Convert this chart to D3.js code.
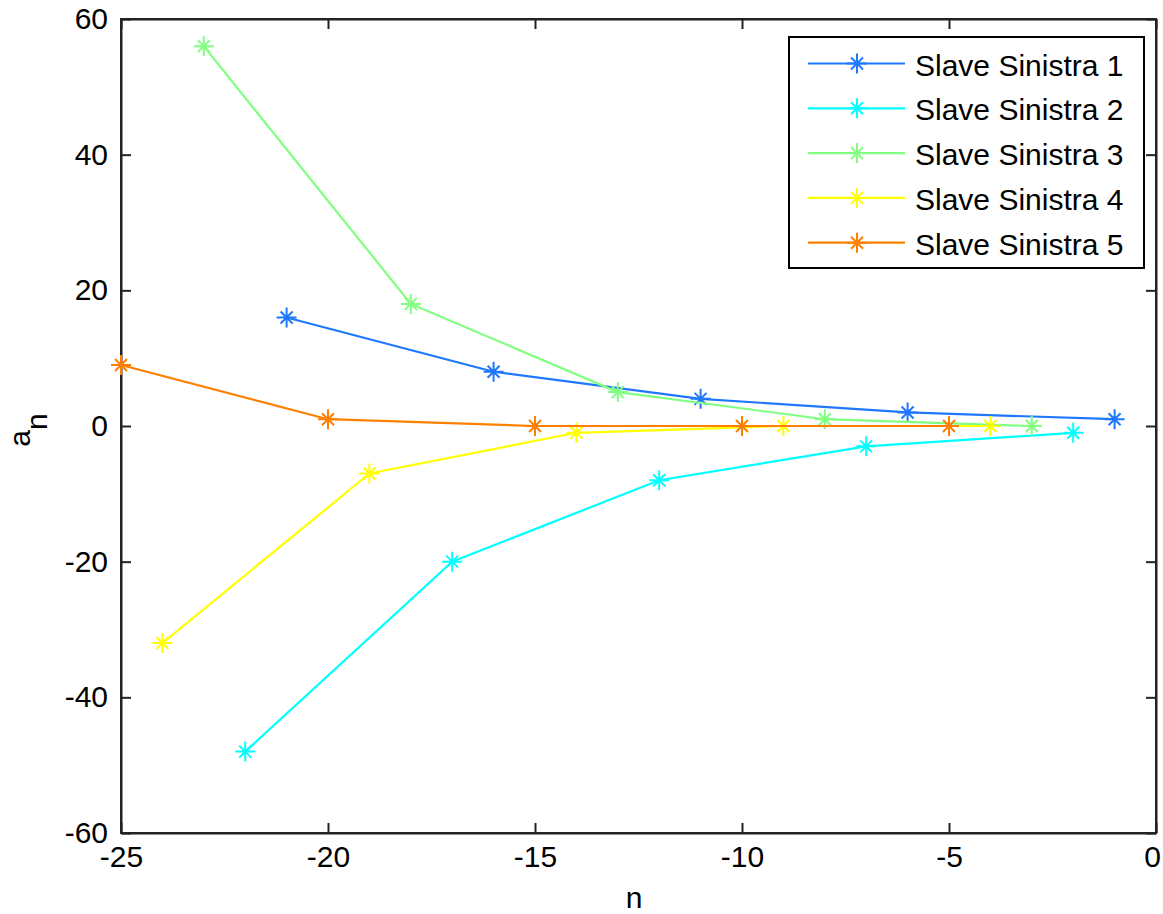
<!DOCTYPE html>
<html><head><meta charset="utf-8">
<script src="https://cdn.jsdelivr.net/npm/d3@7"></script>
<style>body{margin:0;background:#fff;} svg{display:block;font-family:"Liberation Sans",Arial,sans-serif;}</style>
</head><body>
<svg id="c" width="1163" height="914"></svg>
<script>
const seriesNames = ["Slave Sinistra 1","Slave Sinistra 2","Slave Sinistra 3","Slave Sinistra 4","Slave Sinistra 5"];
const seriesColors = ["#1e78ff","#00ffff","#80ff80","#ffff00","#ff8000"];
const x1 = [-21,-16,-11,-6,-1];
const y1 = [16,8,4,2,1];
const x2 = [-22,-17,-12,-7,-2];
const y2 = [-48,-20,-8,-3,-1];
const x3 = [-23,-18,-13,-8,-3];
const y3 = [56,18,5,1,0];
const x4 = [-24,-19,-14,-9,-4];
const y4 = [-32,-7,-1,0,0];
const x5 = [-25,-20,-15,-10,-5];
const y5 = [9,1,0,0,0];
const xTicks = [-25,-20,-15,-10,-5,0];
const yTicks = [-60,-40,-20,0,20,40,60];

const xs = [x1,x2,x3,x4,x5], ys=[y1,y2,y3,y4,y5];
const series = seriesNames.map((n,i)=>({name:n,color:seriesColors[i],pts:xs[i].map((x,j)=>[x,ys[i][j]])}));

const svg = d3.select("#c");
const L=121,R=1156,T=19,B=833;
const x = d3.scaleLinear().domain([-25,0]).range([L,R]);
const y = d3.scaleLinear().domain([-60,60]).range([B,T]);
const fs = 30;
const fmt = d => String(d).replace("\u2212","-");

const axColor="#222";
const gx = svg.append("g").attr("transform",`translate(0,${B})`)
  .call(d3.axisBottom(x).tickValues(xTicks).tickSizeInner(-10).tickSizeOuter(0).tickPadding(13).tickFormat(fmt));
const gy = svg.append("g").attr("transform",`translate(${L},0)`)
  .call(d3.axisLeft(y).tickValues(yTicks).tickSizeInner(-10).tickSizeOuter(0).tickPadding(13).tickFormat(fmt));
const gxt = svg.append("g").attr("transform",`translate(0,${T})`)
  .call(d3.axisTop(x).tickValues(xTicks).tickSizeInner(-10).tickSizeOuter(0).tickFormat(""));
const gyr = svg.append("g").attr("transform",`translate(${R},0)`)
  .call(d3.axisRight(y).tickValues(yTicks).tickSizeInner(-10).tickSizeOuter(0).tickFormat(""));
[gx,gy,gxt,gyr].forEach(g=>{
  g.select(".domain").attr("stroke",axColor).attr("stroke-width",2);
  g.selectAll(".tick line").attr("stroke",axColor).attr("stroke-width",2);
  g.selectAll(".tick text").attr("fill","#000").attr("font-size",fs).attr("font-family","Liberation Sans, Arial, sans-serif");
});
// keep the last x tick label inside the page
gx.selectAll(".tick text").filter(d=>d===0).attr("dx",-4);
svg.append("rect").attr("x",L).attr("y",T).attr("width",R-L).attr("height",B-T).attr("fill","none").attr("stroke",axColor).attr("stroke-width",2);

// labels
svg.append("text").attr("x",634).attr("y",908).attr("text-anchor","middle").attr("font-size",fs).text("n");
const yl = svg.append("text").attr("transform","translate(30,430) rotate(-90)").attr("text-anchor","middle").attr("font-size",fs);
yl.append("tspan").text("a");
yl.append("tspan").attr("dy",17).attr("font-size",fs).text("n");

function star(g,cx,cy,color){
  const r=10, d=6;
  const p = `M${cx-r},${cy}L${cx+r},${cy}M${cx},${cy-r}L${cx},${cy+r}M${cx-d},${cy-d}L${cx+d},${cy+d}M${cx-d},${cy+d}L${cx+d},${cy-d}`;
  g.append("path").attr("d",p).attr("stroke",color).attr("stroke-width",2).attr("fill","none");
}

const line = d3.line().x(d=>x(d[0])).y(d=>y(d[1]));
series.forEach(s=>{
  const g = svg.append("g");
  g.append("path").datum(s.pts).attr("d",line).attr("fill","none").attr("stroke",s.color).attr("stroke-width",2.2);
  s.pts.forEach(p=>star(g,x(p[0]),y(p[1]),s.color));
});

// legend
const lg = svg.append("g");
lg.append("rect").attr("x",789).attr("y",37).attr("width",355).attr("height",231).attr("fill","#fff").attr("stroke","#000").attr("stroke-width",2);
series.forEach((s,i)=>{
  const yy = 63.5 + i*44.8;
  lg.append("line").attr("x1",808).attr("x2",905).attr("y1",yy).attr("y2",yy).attr("stroke",s.color).attr("stroke-width",2.2);
  star(lg,857,yy,s.color);
  lg.append("text").attr("x",915).attr("y",yy+12).attr("font-size",30).text(s.name);
});
</script>
</body></html>
